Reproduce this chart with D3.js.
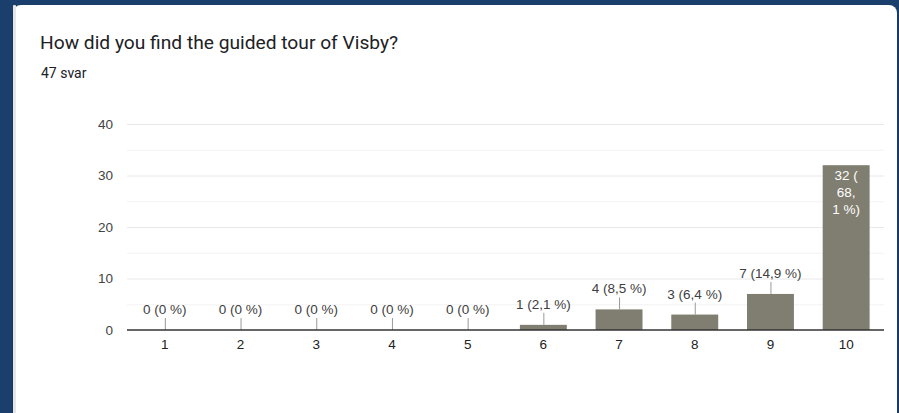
<!DOCTYPE html>
<html><head><meta charset="utf-8">
<script src="https://cdn.jsdelivr.net/npm/d3@7"></script>
<style>
html,body{margin:0;padding:0;background:#1a3f6c;}
svg{display:block;}
</style></head>
<body>
<svg id="chart" width="899" height="413"></svg>
<script>
const title = "How did you find the guided tour of Visby?";
const subtitle = "47 svar";
const categories = ["1","2","3","4","5","6","7","8","9","10"];
const counts = [0,0,0,0,0,1,4,3,7,32];
const labels = ["0 (0 %)","0 (0 %)","0 (0 %)","0 (0 %)","0 (0 %)","1 (2,1 %)","4 (8,5 %)","3 (6,4 %)","7 (14,9 %)","32 (68,1 %)"];
const insideLines = ["32 (","68,","1 %)"];
const yTicks = [0,10,20,30,40];
const yMinor = [5,15,25,35];

const svg = d3.select("#chart");
const defs = svg.append("defs");
const f = defs.append("filter").attr("id","sh").attr("x","-5%").attr("y","-5%").attr("width","110%").attr("height","110%");
f.append("feDropShadow").attr("dx",0).attr("dy",1).attr("stdDeviation",1.5).attr("flood-color","#000").attr("flood-opacity",0.25);

svg.append("rect").attr("x",13).attr("y",5).attr("width",884).attr("height",430)
  .attr("rx",8).attr("fill","#fff").attr("filter","url(#sh)");
svg.append("rect").attr("x",13).attr("y",5).attr("width",3).attr("height",430).attr("fill","#e6e6e6").attr("rx",1);

svg.append("text").attr("x",40).attr("y",49).text(title)
  .attr("font-family","Roboto, 'Open Sans', sans-serif").attr("font-size",19.2).attr("fill","#202124");
svg.append("text").attr("x",41).attr("y",78).text(subtitle)
  .attr("font-family","Roboto, sans-serif").attr("font-size",14).attr("fill","#202124");

const x = d3.scaleBand().domain(categories).range([127,884]).paddingInner(0.38).paddingOuter(0.19);
const y = d3.scaleLinear().domain([0,40]).range([330,124]);
const font = "'Liberation Sans', Arial, sans-serif";
const fs = 13.5;

// gridlines
svg.append("g").selectAll("line.minor").data(yMinor).join("line")
  .attr("x1",127).attr("x2",884).attr("y1",d=>y(d)+0.5).attr("y2",d=>y(d)+0.5)
  .attr("stroke","#f3f3f3").attr("stroke-width",1);
svg.append("g").selectAll("line.major").data(yTicks.filter(d=>d>0)).join("line")
  .attr("x1",127).attr("x2",884).attr("y1",d=>y(d)+0.5).attr("y2",d=>y(d)+0.5)
  .attr("stroke","#e8e8e8").attr("stroke-width",1);

// y axis labels
const yAxis = d3.axisLeft(y).tickValues(yTicks).tickSize(0).tickPadding(0);
const gy = svg.append("g").attr("transform","translate(113,0)").call(yAxis);
gy.select(".domain").remove();
gy.selectAll("text").attr("font-family",font).attr("font-size",fs).attr("fill","#444");

// bars
const data = categories.map((c,i)=>({c, v:counts[i], label:labels[i]}));
svg.append("g").selectAll("rect").data(data).join("rect")
  .attr("x",d=>x(d.c)).attr("width",x.bandwidth())
  .attr("y",d=>y(d.v)).attr("height",d=>y(0)-y(d.v))
  .attr("fill","#807e70");

// annotations outside
const outside = data.filter(d=>d.v<20);
svg.append("g").selectAll("line").data(outside).join("line")
  .attr("x1",d=>x(d.c)+x.bandwidth()/2+0.5).attr("x2",d=>x(d.c)+x.bandwidth()/2+0.5)
  .attr("y1",d=>y(d.v)).attr("y2",d=>y(d.v)-12)
  .attr("stroke","#999").attr("stroke-width",1);
svg.append("g").selectAll("text").data(outside).join("text")
  .attr("x",d=>x(d.c)+x.bandwidth()/2).attr("y",d=>y(d.v)-16)
  .attr("text-anchor","middle").attr("font-family",font).attr("font-size",fs).attr("fill","#404040")
  .text(d=>d.label);

// inside annotation
const big = data.filter(d=>d.v>=20);
big.forEach(d=>{
  svg.append("text").attr("x",x(d.c)+x.bandwidth()/2).attr("y",y(d.v)+15)
    .attr("text-anchor","middle").attr("font-family",font).attr("font-size",fs).attr("fill","#fff")
    .selectAll("tspan").data(insideLines).join("tspan")
    .attr("x",x(d.c)+x.bandwidth()/2).attr("dy",(t,i)=>i===0?0:17).text(t=>t);
});

// baseline + x labels
const xAxis = d3.axisBottom(x).tickSize(0).tickPadding(9);
const gx = svg.append("g").attr("transform",`translate(0,${y(0)})`).call(xAxis);
gx.select(".domain").attr("stroke","#333").attr("stroke-width",1.5).attr("d","M127,0H884");
gx.selectAll("text").attr("font-family",font).attr("font-size",fs).attr("fill","#222");
</script>
</body></html>
